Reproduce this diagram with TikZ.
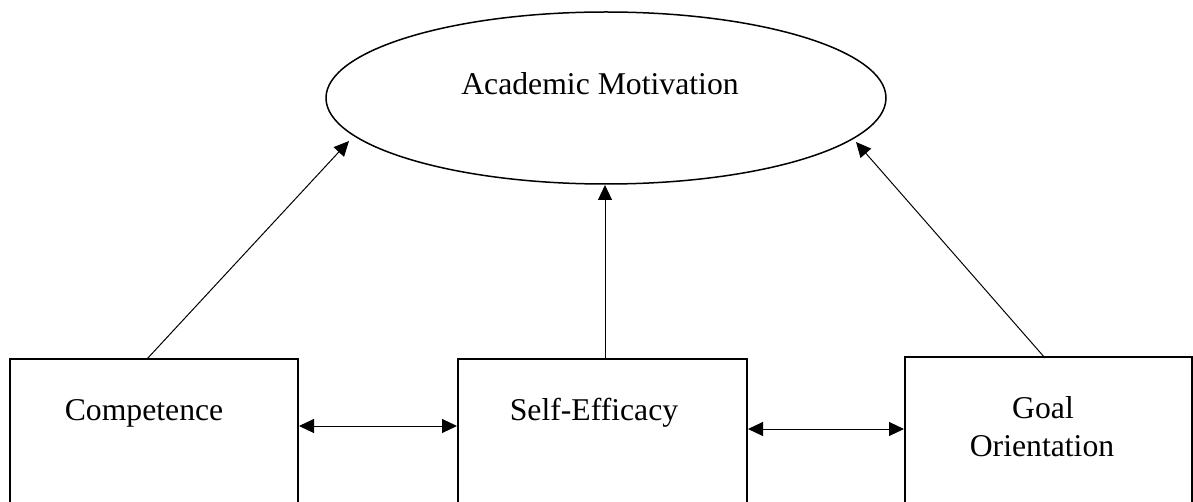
\documentclass[tikz,border=0pt]{standalone}
\usepackage{fontspec}
\setmainfont{Liberation Serif}
\usetikzlibrary{arrows.meta,shapes.geometric}
\begin{document}
\begin{tikzpicture}[x=0.5pt,y=-0.5pt,
  box/.style={draw, line width=1pt, inner sep=0pt},
  lbl/.style={font=\fontsize{15.85pt}{19pt}\selectfont, inner sep=0pt, anchor=base},
  arr/.style={line width=0.5pt, -{Triangle[length=7.5pt,width=7pt]}},
  dbl/.style={line width=0.5pt, {Triangle[length=7.5pt,width=7pt]}-{Triangle[length=7.5pt,width=7pt]}}]
\useasboundingbox (0,0) rectangle (1193,502);
\clip (0,0) rectangle (1193,502);
% latent variable
\node[draw, ellipse, line width=0.75pt, inner sep=0pt, minimum width=280pt, minimum height=86pt] (am) at (606,98) {};
\node[lbl] (amt) at (600,95) {Academic Motivation};
% boxes
\node[box, minimum width=144.25pt, minimum height=80.5pt] (comp) at (153.75,439.5) {};
\node[box, minimum width=144.5pt, minimum height=80.5pt] (se) at (602.5,439.5) {};
\node[box, minimum width=143.5pt, minimum height=81.5pt] (goal) at (1048.5,438.5) {};
\node[lbl] (compt) at (144,420) {Competence};
\node[lbl] (set) at (594,420) {Self-Efficacy};
\node[lbl] (goalt1) at (1043,418) {Goal};
\node[lbl] (goalt2) at (1042,456) {Orientation};
% connector end points
\coordinate (c1) at (147,359);
\coordinate (t1) at (349,141);
\coordinate (c2) at (605,359);
\coordinate (t2) at (605,185);
\coordinate (c3) at (1045,358);
\coordinate (t3) at (856,142);
% paths
\draw[arr] (c1) -- (t1);
\draw[arr] (c2) -- (t2);
\draw[arr] (c3) -- (t3);
\draw[dbl] (comp.east |- 0,426) -- (se.west |- 0,426);
\draw[dbl] (se.east |- 0,429) -- (goal.west |- 0,429);
\end{tikzpicture}
\end{document}
